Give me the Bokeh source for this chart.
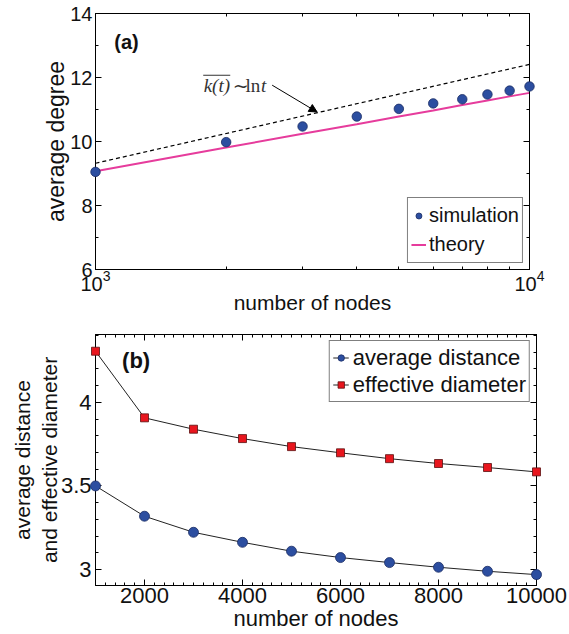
from bokeh.plotting import figure
from bokeh.layouts import column
from bokeh.models import (Legend, LegendItem, LogAxis, LinearAxis, FixedTicker,
                          SingleIntervalTicker, Range1d, Label, Arrow, NormalHead,
                          NumeralTickFormatter)
from bokeh.embed import file_html
from bokeh.resources import INLINE

# ---------------- data ----------------
nodes = [1000, 2000, 3000, 4000, 5000, 6000, 7000, 8000, 9000, 10000]
sim_degree = [9.05, 9.98, 10.47, 10.78, 11.02, 11.19, 11.32, 11.47, 11.59, 11.72]
theory_degree = [9.07, 9.81, 10.24, 10.54, 10.78, 10.97, 11.14, 11.28, 11.41, 11.52]
lnt_nodes = [1000, 10000]
lnt_degree = [9.32, 12.41]

avg_distance = [3.50, 3.319, 3.223, 3.163, 3.110, 3.072, 3.042, 3.014, 2.990, 2.970]
eff_diameter = [4.305, 3.907, 3.839, 3.783, 3.735, 3.698, 3.663, 3.634, 3.610, 3.584]

top_x_major = [1000, 10000]
top_x_minor = [2000, 3000, 4000, 5000, 6000, 7000, 8000, 9000]

FONT = "Liberation Sans"
TXT = "#111111"
BLUE = "#2c4ea0"
BLUE_EDGE = "#1b2c63"
RED = "#e8161e"
RED_EDGE = "#5a1010"
PINK = "#e63c9c"


def style_axis(ax, fs, label_fs=None, hidden=False):
    ax.axis_line_color = "black"
    ax.axis_line_width = 1
    ax.major_tick_in = 6
    ax.major_tick_out = 0
    ax.minor_tick_in = 3
    ax.minor_tick_out = 0
    ax.major_tick_line_color = "black"
    ax.minor_tick_line_color = "black"
    ax.major_label_text_font = FONT
    ax.major_label_text_color = TXT
    ax.axis_label_text_font = FONT
    ax.axis_label_text_font_style = "normal"
    ax.axis_label_text_color = TXT
    if hidden:
        ax.major_label_text_font_size = "2px"
        ax.major_label_text_alpha = 0
        ax.major_label_standoff = 0
    else:
        ax.major_label_text_font_size = fs
    if label_fs:
        ax.axis_label_text_font_size = label_fs


# ---------------- panel (a) ----------------
p1 = figure(x_axis_type="log", x_range=Range1d(1000, 10000), y_range=Range1d(6, 14),
            frame_width=434, frame_height=256,
            min_border_left=88, min_border_right=47, min_border_top=13, min_border_bottom=48,
            output_backend="svg", toolbar_location=None)
p1.grid.visible = False
p1.outline_line_color = "black"
p1.background_fill_color = "white"
p1.border_fill_color = "white"

p1.xaxis.ticker = FixedTicker(ticks=top_x_major, minor_ticks=top_x_minor)
p1.yaxis.ticker = SingleIntervalTicker(interval=2, num_minor_ticks=2)
p1.xaxis.axis_label = "number of nodes"
p1.yaxis.axis_label = "average degree"
style_axis(p1.xaxis[0], "20px", "21px")
style_axis(p1.yaxis[0], "20px", "23px")
p1.xaxis.major_label_standoff = 0
p1.xaxis.axis_label_standoff = -3
p1.yaxis.major_label_standoff = 3
p1.yaxis.axis_label_standoff = -2

ax_top = LogAxis(ticker=FixedTicker(ticks=top_x_major, minor_ticks=top_x_minor))
style_axis(ax_top, "0px", hidden=True)
p1.add_layout(ax_top, "above")
ax_right = LinearAxis(ticker=SingleIntervalTicker(interval=2, num_minor_ticks=2))
style_axis(ax_right, "0px", hidden=True)
p1.add_layout(ax_right, "right")

r_lnt = p1.line(lnt_nodes, lnt_degree, line_color="black", line_width=1.2, line_dash="4 3")
r_theory = p1.line(nodes, theory_degree, line_color=PINK, line_width=2)
r_sim = p1.scatter(nodes, sim_degree, marker="circle", size=9.5, fill_color=BLUE,
                   line_color=BLUE_EDGE, line_width=0.8, level="overlay")

leg1 = Legend(items=[LegendItem(label="simulation", renderers=[r_sim]),
                     LegendItem(label="theory", renderers=[r_theory])],
              location="bottom_right")
leg1.margin = 6
leg1.padding = 3
leg1.spacing = 0
leg1.label_height = 29
leg1.glyph_height = 29
leg1.glyph_width = 15
leg1.label_standoff = 3
leg1.label_text_font = FONT
leg1.label_text_font_size = "20px"
leg1.label_text_color = TXT
leg1.border_line_color = "black"
leg1.border_line_width = 1
leg1.background_fill_alpha = 1
p1.add_layout(leg1)

p1.add_layout(Label(x=1105, y=13.10, text="(a)", text_font=FONT, text_font_size="20px",
                    text_font_style="bold", text_color=TXT, text_baseline="middle"))

# annotation  k(t) ~ ln t
ann_y = 11.76
ann_col = "#333333"
p1.add_layout(Label(x=1775, y=ann_y, text="k(t)", text_font="Liberation Serif",
                    text_font_size="19px", text_font_style="italic", text_color=ann_col,
                    text_baseline="middle"))
p1.add_layout(Label(x=2070, y=ann_y, text="~", text_font="DejaVu Serif",
                    text_font_size="19px", text_color=ann_col, text_baseline="middle"))
p1.add_layout(Label(x=2215, y=ann_y, text="ln", text_font="Liberation Serif",
                    text_font_size="19px", text_color=ann_col, text_baseline="middle"))
p1.add_layout(Label(x=2405, y=ann_y, text="t", text_font="Liberation Serif",
                    text_font_size="19px", text_font_style="italic", text_color=ann_col,
                    text_baseline="middle"))
p1.segment(x0=[1771], y0=[12.07], x1=[2044], y1=[12.07], line_color=ann_col, line_width=1)
p1.add_layout(Arrow(x_start=2553, y_start=11.76, x_end=3241, y_end=10.92,
                    line_color="black", line_width=1,
                    end=NormalHead(size=8, fill_color="black", line_color="black")))

# ---------------- panel (b) ----------------
p2 = figure(x_range=Range1d(1000, 10000), y_range=Range1d(2.905, 4.405),
            frame_width=441, frame_height=251,
            min_border_left=95, min_border_right=33, min_border_top=17, min_border_bottom=49,
            output_backend="svg", toolbar_location=None)
p2.grid.visible = False
p2.outline_line_color = "black"
p2.background_fill_color = "white"
p2.border_fill_color = "white"

p2.xaxis.ticker = SingleIntervalTicker(interval=2000, num_minor_ticks=10)
p2.yaxis.ticker = SingleIntervalTicker(interval=0.5, num_minor_ticks=5)
p2.xaxis.formatter = NumeralTickFormatter(format="0")
p2.yaxis.formatter = NumeralTickFormatter(format="0.[0]")
p2.xaxis.axis_label = "number of nodes"
p2.yaxis.axis_label = "average distance\nand effective diameter"
style_axis(p2.xaxis[0], "22px", "22px")
style_axis(p2.yaxis[0], "22px", "21px")
p2.xaxis.major_label_standoff = 2
p2.xaxis.axis_label_standoff = 0
p2.yaxis.major_label_standoff = 4
p2.yaxis.axis_label_standoff = -3
p2.yaxis.axis_label_text_line_height = 1.15

ax_top2 = LinearAxis(ticker=SingleIntervalTicker(interval=2000, num_minor_ticks=10))
style_axis(ax_top2, "0px", hidden=True)
p2.add_layout(ax_top2, "above")
ax_right2 = LinearAxis(ticker=SingleIntervalTicker(interval=0.5, num_minor_ticks=5))
style_axis(ax_right2, "0px", hidden=True)
p2.add_layout(ax_right2, "right")

l_dist = p2.line(nodes, avg_distance, line_color="#222222", line_width=1)
s_dist = p2.scatter(nodes, avg_distance, marker="circle", size=10, fill_color=BLUE,
                    line_color=BLUE_EDGE, line_width=0.8, level="overlay")
l_diam = p2.line(nodes, eff_diameter, line_color="#222222", line_width=1)
s_diam = p2.scatter(nodes, eff_diameter, marker="square", size=8, fill_color=RED,
                    line_color=RED_EDGE, line_width=0.8, level="overlay")

leg2 = Legend(items=[LegendItem(label="average distance", renderers=[l_dist, s_dist]),
                     LegendItem(label="effective diameter", renderers=[l_diam, s_diam])],
              location="top_right")
leg2.margin = 6
leg2.padding = 3
leg2.spacing = 0
leg2.label_height = 27
leg2.glyph_height = 27
leg2.glyph_width = 16
leg2.label_standoff = 4
leg2.label_text_font = FONT
leg2.label_text_font_size = "22px"
leg2.label_text_color = TXT
leg2.border_line_color = "black"
leg2.border_line_width = 1
p2.add_layout(leg2)

p2.add_layout(Label(x=1543, y=4.249, text="(b)", text_font=FONT, text_font_size="22px",
                    text_font_style="bold", text_color=TXT, text_baseline="middle"))

layout = column(p1, p2, spacing=0)
open("out.html", "w").write(file_html(layout, INLINE))
